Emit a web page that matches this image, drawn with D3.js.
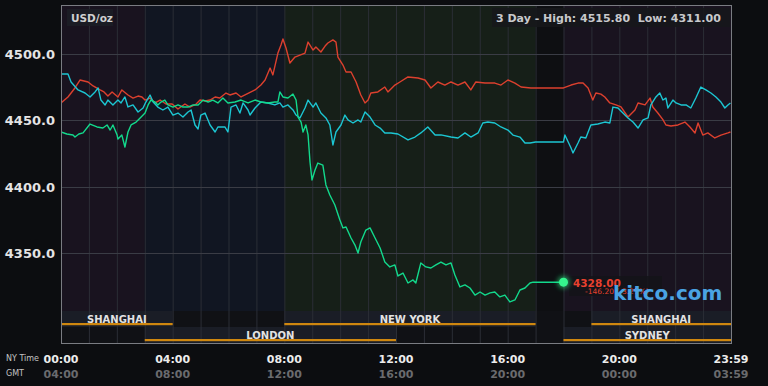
<!DOCTYPE html>
<html><head><meta charset="utf-8">
<script src="https://cdn.jsdelivr.net/npm/d3@7/dist/d3.min.js"></script>
<style>
html,body{margin:0;padding:0;background:#0c0d10;}
svg{display:block;font-family:"DejaVu Sans",sans-serif;}
</style></head><body>
<svg id="c" width="768" height="386"></svg>
<script>
// ---- data ----
const redTimes = [0.00,0.25,0.50,0.68,0.97,1.15,1.40,1.54,1.68,1.83,2.04,2.18,2.40,2.58,2.76,2.90,3.01,3.19,3.37,3.55,3.76,3.98,4.19,4.44,4.62,4.84,4.98,5.16,5.34,5.52,5.69,5.91,6.05,6.27,6.45,6.95,7.16,7.31,7.49,7.59,7.77,7.88,7.95,8.06,8.20,8.38,8.56,8.74,8.85,9.03,9.13,9.31,9.46,9.56,9.74,9.85,9.92,10.10,10.21,10.39,10.57,10.74,10.89,11.00,11.10,11.35,11.60,11.71,11.96,12.14,12.43,12.79,13.04,13.25,13.50,13.75,13.97,14.22,14.47,14.68,14.86,15.19,15.54,15.76,16.01,16.26,16.48,16.83,17.00,18.00,18.27,18.52,18.70,18.88,19.05,19.16,19.34,19.48,19.66,19.88,20.06,20.31,20.56,20.67,20.92,21.10,21.20,21.38,21.56,21.67,21.85,22.10,22.35,22.53,22.71,22.82,22.99,23.17,23.42,23.64,23.89,23.98];
const redValues = [4463.1,4467.6,4474.4,4480.4,4478.9,4475.9,4472.9,4471.4,4468.3,4471.4,4467.6,4472.9,4469.1,4466.8,4468.3,4467.6,4465.3,4466.8,4463.1,4465.3,4462.3,4462.3,4458.5,4462.3,4460.0,4462.3,4465.3,4464.6,4465.3,4467.6,4466.8,4470.6,4469.1,4470.6,4467.6,4472.9,4476.6,4480.4,4489.4,4484.2,4500.7,4506.8,4511.3,4504.5,4493.2,4497.7,4499.2,4500.7,4509.0,4503.0,4505.3,4501.5,4506.0,4508.3,4510.6,4509.0,4497.7,4491.7,4486.4,4486.4,4478.9,4469.1,4463.1,4465.3,4470.6,4471.4,4475.1,4471.4,4476.6,4478.9,4482.7,4481.9,4480.4,4474.4,4478.9,4476.6,4478.9,4476.6,4478.9,4472.9,4478.9,4478.1,4478.1,4476.6,4480.4,4478.1,4475.1,4474.4,4474.4,4474.4,4476.6,4478.1,4478.1,4474.4,4465.3,4470.6,4469.8,4467.6,4463.1,4461.6,4460.1,4452.5,4457.8,4463.1,4461.6,4466.8,4460.1,4455.5,4450.5,4446.5,4445.7,4446.5,4448.7,4445.0,4440.5,4448.0,4438.9,4440.5,4436.7,4438.9,4440.5,4441.2];

const cyanTimes = [0.00,0.25,0.36,0.61,0.86,1.04,1.22,1.33,1.43,1.58,1.68,1.86,2.04,2.15,2.29,2.40,2.58,2.76,2.94,3.04,3.19,3.30,3.47,3.65,3.83,4.01,4.19,4.37,4.55,4.66,4.80,4.91,5.01,5.16,5.34,5.52,5.62,5.87,5.98,6.09,6.27,6.41,6.52,6.70,6.77,6.95,7.16,7.41,7.66,7.84,7.95,8.13,8.31,8.42,8.56,8.74,8.85,9.03,9.13,9.31,9.49,9.63,9.74,9.85,10.03,10.17,10.28,10.46,10.64,10.74,10.89,11.07,11.25,11.43,11.60,11.82,12.07,12.43,12.68,12.89,13.14,13.40,13.61,13.97,14.22,14.47,14.68,14.94,15.11,15.29,15.54,15.76,16.01,16.19,16.44,16.62,16.80,17.00,18.00,18.05,18.27,18.34,18.52,18.62,18.80,18.98,19.23,19.48,19.66,19.77,19.95,20.13,20.31,20.49,20.67,20.85,21.03,21.13,21.31,21.45,21.56,21.67,21.74,21.92,22.03,22.21,22.39,22.56,22.74,22.92,23.10,23.28,23.46,23.64,23.78,23.89,23.98];
const cyanValues = [4484.9,4484.9,4478.9,4472.9,4470.6,4467.6,4471.4,4474.4,4465.3,4461.6,4465.3,4461.6,4465.3,4463.1,4467.6,4460.1,4461.6,4456.3,4459.3,4463.8,4469.1,4463.8,4460.0,4457.8,4460.0,4454.0,4455.5,4452.5,4456.3,4457.8,4446.5,4443.5,4454.0,4455.5,4446.5,4441.2,4445.0,4445.0,4441.2,4460.0,4461.6,4455.5,4463.1,4457.8,4454.0,4459.3,4463.8,4463.1,4461.6,4463.1,4460.0,4461.6,4457.8,4454.0,4451.8,4459.3,4465.3,4460.0,4463.1,4455.5,4451.8,4446.5,4431.4,4441.2,4446.5,4454.0,4450.3,4448.0,4450.3,4448.7,4456.3,4452.5,4446.5,4444.2,4440.5,4440.5,4439.7,4435.2,4437.4,4440.5,4445.0,4439.0,4439.0,4437.4,4436.7,4440.5,4437.4,4440.5,4448.0,4448.7,4448.0,4445.0,4442.7,4438.9,4437.4,4432.9,4432.9,4433.7,4433.7,4438.9,4429.1,4425.4,4432.9,4437.4,4436.7,4446.5,4447.2,4448.7,4448.0,4460.0,4459.3,4455.5,4451.8,4448.7,4444.2,4450.3,4451.8,4461.6,4467.6,4470.6,4465.3,4466.8,4459.3,4465.3,4463.1,4461.6,4461.6,4459.3,4466.8,4475.1,4472.9,4470.6,4467.6,4463.8,4459.3,4461.6,4463.1];

const greenTimes = [0.00,0.21,0.43,0.50,0.64,0.79,1.04,1.29,1.50,1.65,1.76,1.86,2.01,2.04,2.18,2.29,2.40,2.51,2.69,2.87,3.01,3.12,3.22,3.37,3.47,3.58,3.72,3.83,4.01,4.19,4.37,4.55,4.73,4.91,5.09,5.27,5.44,5.62,5.80,5.98,6.23,6.45,6.70,6.95,7.16,7.41,7.66,7.77,7.84,7.95,8.13,8.31,8.42,8.49,8.60,8.67,8.77,8.85,8.92,8.99,9.10,9.20,9.38,9.49,9.63,9.81,9.99,10.10,10.21,10.39,10.53,10.64,10.74,10.92,11.07,11.25,11.43,11.60,11.78,11.96,12.07,12.25,12.43,12.61,12.71,12.89,13.07,13.25,13.43,13.61,13.79,13.97,14.11,14.29,14.47,14.65,14.83,15.01,15.19,15.37,15.54,15.72,15.90,16.08,16.26,16.44,16.62,16.80,16.91,18.00];
const greenValues = [4441.2,4439.7,4438.9,4437.4,4439.7,4440.5,4447.2,4445.0,4444.2,4446.5,4442.7,4446.5,4438.9,4435.9,4438.9,4429.9,4441.2,4446.5,4448.7,4452.5,4455.5,4461.6,4465.3,4463.8,4461.6,4463.8,4465.3,4461.6,4460.0,4461.6,4460.0,4460.0,4461.6,4461.6,4465.3,4463.8,4465.3,4463.1,4466.8,4463.1,4463.8,4465.3,4463.1,4465.3,4463.8,4463.1,4463.8,4463.8,4471.4,4467.6,4466.8,4469.8,4465.3,4452.5,4448.7,4441.2,4446.5,4439.0,4418.6,4405.0,4412.6,4417.8,4416.3,4401.3,4393.7,4386.2,4374.9,4368.9,4369.6,4361.3,4356.0,4350.0,4358.3,4367.3,4368.9,4361.3,4353.8,4343.2,4339.5,4341.0,4332.7,4334.9,4327.4,4329.7,4327.4,4342.5,4339.5,4338.7,4341.0,4343.2,4341.0,4342.5,4333.4,4324.4,4325.9,4323.6,4318.3,4320.6,4318.3,4319.9,4320.6,4316.9,4318.3,4313.1,4314.6,4322.1,4323.6,4327.4,4328.0,4328.0];

const yTicks = [4350, 4400, 4450, 4500];
const nyTimeLabels = ["00:00","04:00","08:00","12:00","16:00","20:00","23:59"];
const gmtLabels = ["04:00","08:00","12:00","16:00","20:00","00:00","03:59"];
const labelHours = [0,4,8,12,16,20,24];

const zoneStart = [0, 3, 8, 17, 18];
const zoneEnd   = [3, 8, 17, 18, 24];
const zoneColor = ["#19131f", "#111622", "#161f18", "#0e0f12", "#19131f"];

const sessionNames = ["SHANGHAI","LONDON","NEW YORK","SHANGHAI","SYDNEY"];
const sessionStart = [0, 3, 8, 19, 18];
const sessionEnd   = [4, 12, 17, 24, 24];
const sessionRow   = [0, 1, 0, 0, 1];

const lastPrice = "4328.00";
const change = "-146.20 (-3.27%)";

// ---- layout ----
const L = 61, R = 731, T = 5, PB = 311, B = 343;
const svg = d3.select("#c");
const x = d3.scaleLinear().domain([0, 24]).range([L, R]);
const y = d3.scaleLinear().domain([4350, 4500]).range([253, 54]);

// background zones
svg.append("g").selectAll("rect").data(d3.range(zoneStart.length)).join("rect")
  .attr("x", i => x(zoneStart[i])).attr("width", i => x(zoneEnd[i]) - x(zoneStart[i]))
  .attr("y", T).attr("height", PB - T).attr("fill", i => zoneColor[i]);

// session rows background
svg.append("rect").attr("x", L).attr("y", PB).attr("width", R - L).attr("height", B - PB).attr("fill", "#101115");
const rowY = [PB, PB + 16];
svg.append("g").selectAll("rect").data(d3.range(sessionNames.length)).join("rect")
  .attr("x", i => x(sessionStart[i])).attr("width", i => x(sessionEnd[i]) - x(sessionStart[i]))
  .attr("y", i => rowY[sessionRow[i]]).attr("height", 16).attr("fill", "#1a1d26");

// grid
const hours = d3.range(1, 24);
svg.append("g").selectAll("line").data(hours).join("line")
  .attr("x1", d => x(d) + 0.5).attr("x2", d => x(d) + 0.5).attr("y1", T).attr("y2", B)
  .attr("stroke", "#2b2e36").attr("stroke-width", 1);
svg.append("g").selectAll("line").data(yTicks).join("line")
  .attr("x1", L).attr("x2", R).attr("y1", d => Math.round(y(d)) + 0.5).attr("y2", d => Math.round(y(d)) + 0.5)
  .attr("stroke", "#3a3c45").attr("stroke-width", 1);

// session orange lines and labels
svg.append("g").selectAll("rect").data(d3.range(sessionNames.length)).join("rect")
  .attr("x", i => x(sessionStart[i])).attr("width", i => x(sessionEnd[i]) - x(sessionStart[i]))
  .attr("y", i => rowY[sessionRow[i]] + 12).attr("height", 2.2).attr("fill", "#cf870f");
svg.append("g").selectAll("text").data(d3.range(sessionNames.length)).join("text")
  .attr("x", i => (x(sessionStart[i]) + x(sessionEnd[i])) / 2).attr("y", i => rowY[sessionRow[i]] + 11.5)
  .attr("text-anchor", "middle").attr("font-size", 10).attr("font-weight", "bold")
  .attr("fill", "#e2e2e2").text(i => sessionNames[i]);

// lines
const clip = svg.append("clipPath").attr("id", "pc").append("rect")
  .attr("x", L).attr("y", T).attr("width", R - L).attr("height", PB - T);
const line = d3.line().x(d => x(d[0])).y(d => y(d[1]));
const series = [
  [d3.zip(redTimes, redValues), "#dc402e"],
  [d3.zip(cyanTimes, cyanValues), "#1cc6d2"],
  [d3.zip(greenTimes, greenValues), "#12d98c"]
];
svg.append("g").attr("clip-path", "url(#pc)").selectAll("path").data(series).join("path")
  .attr("d", d => line(d[0])).attr("fill", "none").attr("stroke", d => d[1])
  .attr("stroke-width", 1.4).attr("stroke-linejoin", "round");

// border
svg.append("rect").attr("x", L + 0.5).attr("y", T + 0.5).attr("width", R - L).attr("height", B - T)
  .attr("fill", "none").attr("stroke", "#7a7c82").attr("stroke-width", 1);

// y labels
svg.append("g").selectAll("text").data(yTicks).join("text")
  .attr("x", 55).attr("y", d => y(d) + 5).attr("text-anchor", "end")
  .attr("font-size", 13).attr("font-weight", "bold").attr("fill", "#e4e4e4")
  .text(d => d3.format(".1f")(d));

// x labels
svg.append("text").attr("x", 6).attr("y", 361).attr("font-size", 8).attr("fill", "#c4c4c4").text("NY Time");
svg.append("text").attr("x", 6).attr("y", 376).attr("font-size", 8).attr("fill", "#c4c4c4").text("GMT");
svg.append("g").selectAll("text").data(d3.range(labelHours.length)).join("text")
  .attr("x", i => x(labelHours[i])).attr("y", 363).attr("text-anchor", "middle")
  .attr("font-size", 11).attr("font-weight", "bold").attr("fill", "#ececec").text(i => nyTimeLabels[i]);
svg.append("g").selectAll("text").data(d3.range(labelHours.length)).join("text")
  .attr("x", i => x(labelHours[i])).attr("y", 378).attr("text-anchor", "middle")
  .attr("font-size", 11).attr("font-weight", "bold").attr("fill", "#6a6b6e").text(i => gmtLabels[i]);

// header boxes
svg.append("rect").attr("x", 67).attr("y", 9).attr("width", 46).attr("height", 17).attr("fill", "#1c1e25").attr("opacity", 0.9);
svg.append("text").attr("x", 71).attr("y", 21.5).attr("font-size", 10.5).attr("font-weight", "bold").attr("fill", "#d0d0d0").text("USD/oz");
svg.append("rect").attr("x", 492).attr("y", 8).attr("width", 238).attr("height", 19).attr("fill", "#16171b").attr("opacity", 0.9);
svg.append("text").attr("x", 496).attr("y", 22).attr("font-size", 11).attr("font-weight", "bold").attr("fill", "#c8c9cc")
  .attr("xml:space", "preserve").text("3 Day - High: 4515.80  Low: 4311.00");

// last price marker
const lastT = greenTimes[greenTimes.length - 1], lastV = greenValues[greenValues.length - 1];
const defs = svg.append("defs");
const f = defs.append("filter").attr("id", "glow").attr("x", "-100%").attr("y", "-100%").attr("width", "300%").attr("height", "300%");
f.append("feGaussianBlur").attr("stdDeviation", 2.5);
svg.append("rect").attr("x", 569).attr("y", 276).attr("width", 93).attr("height", 20).attr("fill", "#141419").attr("opacity", 0.85);
svg.append("circle").attr("cx", x(lastT)).attr("cy", y(lastV)).attr("r", 6).attr("fill", "#2cff8c").attr("opacity", 0.6).attr("filter", "url(#glow)");
svg.append("circle").attr("cx", x(lastT)).attr("cy", y(lastV)).attr("r", 4.5).attr("fill", "#35f58e");
svg.append("text").attr("x", 573).attr("y", 286.5).attr("font-size", 10.5).attr("font-weight", "bold").attr("fill", "#e8412f").text(lastPrice);
svg.append("text").attr("x", 585).attr("y", 294).attr("font-size", 7.5).attr("fill", "#e8412f").text(change);
svg.append("text").attr("x", 613).attr("y", 300).attr("font-size", 20).attr("font-weight", "bold").attr("fill", "#4aa3e3").text("kitco.com");
</script>
</body></html>
